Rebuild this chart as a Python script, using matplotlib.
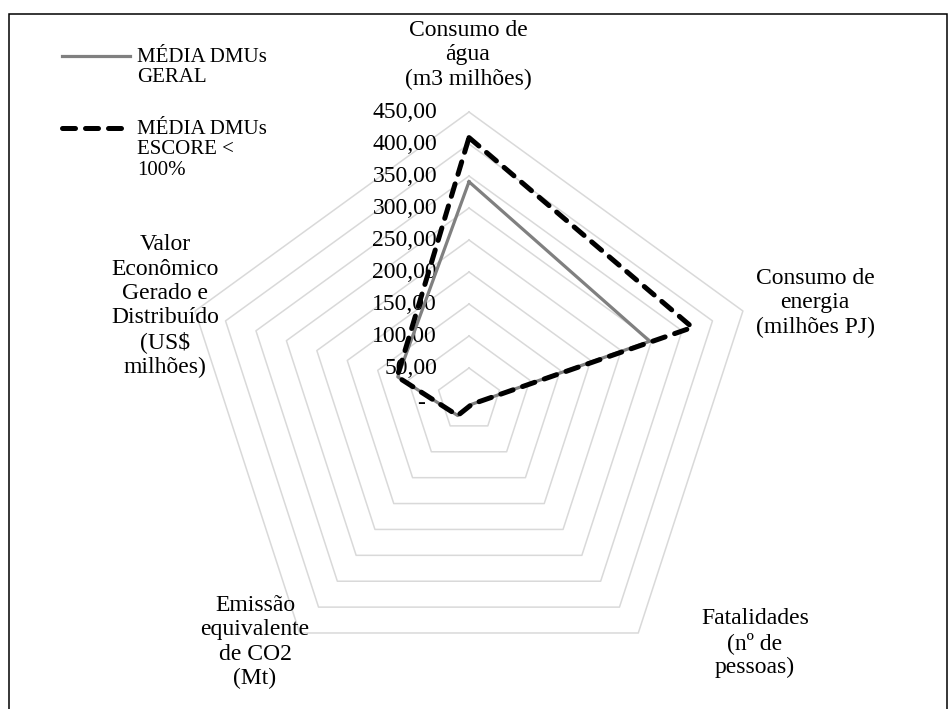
import numpy as np
import matplotlib.pyplot as plt
from matplotlib.patches import Rectangle
from matplotlib.lines import Line2D

plt.rcParams['font.family'] = ['Liberation Serif', 'DejaVu Serif']

# eixos do radar (sentido horário a partir do topo)
categorias = ["Consumo de\nágua\n(m3 milhões)",
              "Consumo de\nenergia\n(milhões PJ)",
              "Fatalidades\n(nº de\npessoas)",
              "Emissão\nequivalente\nde CO2\n(Mt)",
              "Valor\nEconômico\nGerado e\nDistribuído\n(US$\nmilhões)"]
media_geral = [341, 297, 8, 30, 117]
media_escore = [410, 367, 8, 30, 118]
niveis = [0, 50, 100, 150, 200, 250, 300, 350, 400, 450]
rotulos_niveis = ["-", "50,00", "100,00", "150,00", "200,00", "250,00",
                  "300,00", "350,00", "400,00", "450,00"]
legenda = ["MÉDIA DMUs\nGERAL", "MÉDIA DMUs\nESCORE <\n100%"]

W, H = 952, 709
cx, cy = 469, 400          # centro do radar em pixels
escala = 288 / 450         # pixels por unidade
fs = 17

fig = plt.figure(figsize=(W / 100, H / 100), dpi=100)
ax = fig.add_axes([0, 0, 1, 1])
ax.set_xlim(-cx / escala, (W - cx) / escala)
ax.set_ylim(-(H - cy) / escala, cy / escala)
ax.axis('off')

n = len(categorias)
ang = np.pi / 2 - 2 * np.pi * np.arange(n) / n


def xy(vals):
    vals = np.asarray(vals, dtype=float)
    x = vals * np.cos(ang)
    y = vals * np.sin(ang)
    return np.append(x, x[0]), np.append(y, y[0])


# grade pentagonal
for nv in niveis[1:]:
    gx, gy = xy([nv] * n)
    ax.plot(gx, gy, color='#d9d9d9', lw=1.1, zorder=1)

# rótulos do eixo radial
for nv, rot in zip(niveis, rotulos_niveis):
    dx = -68 if nv == 0 else -50
    ax.text(dx, nv - (5 if nv == 0 else 0), rot, ha='right', va='center',
            fontsize=fs, zorder=2)

x1, y1 = xy(media_geral)
l1, = ax.plot(x1, y1, color='#808080', lw=2.3, zorder=3)
x2, y2 = xy(media_escore)
l2, = ax.plot(x2, y2, color='black', lw=3.6, zorder=4,
              dashes=(2.6, 2.0), dash_capstyle='round', solid_capstyle='round')

# rótulos das categorias
pos_rotulos = [(468, 55), (815, 303), (755, 643), (255, 642), (165, 306)]
for texto, (px, py) in zip(categorias, pos_rotulos):
    fig.text(px / W, 1 - py / H, texto, ha='center', va='center',
             multialignment='center', fontsize=fs, linespacing=1.2)

# legenda: amostra alinhada com a primeira linha do texto
for linha, texto, ly in zip([l1, l2], legenda, [56, 128]):
    amostra = Line2D([62 / W, 130 / W], [1 - ly / H, 1 - ly / H])
    amostra.update_from(linha)
    amostra.set_transform(fig.transFigure)
    fig.add_artist(amostra)
    fig.text(137 / W, 1 - (ly - 8) / H, texto, ha='left', va='top',
             fontsize=15, linespacing=1.1)

# moldura
fig.add_artist(Rectangle((9 / W, -0.05), 938 / W, 1.05 - 14 / H,
                         transform=fig.transFigure, fill=False, lw=1.1,
                         edgecolor='black'))

fig.savefig('out.png', dpi=100)
